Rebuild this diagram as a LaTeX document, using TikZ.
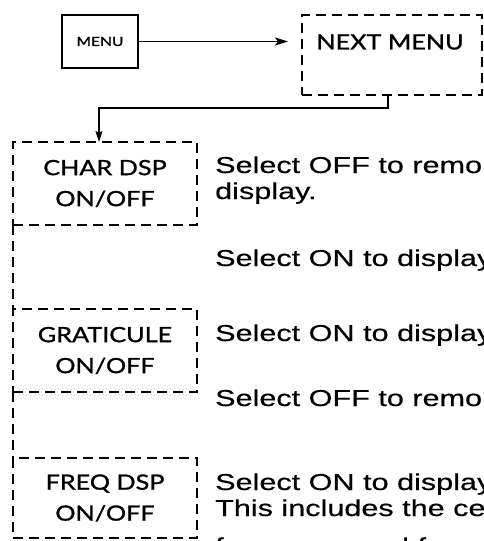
\documentclass[tikz,border=0pt]{standalone}
\usepackage{fontspec}
\usetikzlibrary{arrows.meta}
\newfontfamily\lblfont[FakeStretch=1.2,FakeBold=1.2]{Lato}
\newfontfamily\menufont[FakeStretch=1.25,FakeBold=1.5]{Lato}
\newfontfamily\txtfont[FakeStretch=1.33,FakeBold=0.4]{Liberation Sans}
\begin{document}
\begin{tikzpicture}[x=1pt,y=-1pt,
  solidbox/.style={draw, line width=1.9pt, inner sep=0pt, outer sep=0pt},
  dbox/.style={draw, line width=1.8pt, dash pattern=on 10pt off 6pt, inner sep=0pt, outer sep=0pt},
  dline/.style={line width=1.8pt, dash pattern=on 10pt off 6pt},
  conn/.style={line width=1.6pt},
  lbl/.style={font=\lblfont\fontsize{21}{31}\selectfont, align=center, inner sep=0pt},
  txt/.style={font=\txtfont\fontsize{23}{26}\selectfont, anchor=base west, inner sep=0pt},
  tip/.style={-{Stealth[length=13pt,width=8pt,inset=3pt]}}
]
\useasboundingbox (0,0) rectangle (483,541);

% top row
\node[solidbox, minimum width=76pt, minimum height=53pt, font=\menufont\fontsize{12.5}{13}\selectfont] (menu) at (100,41.5) {MENU};
\node[dbox, minimum width=180pt, minimum height=80pt] (next) at (392,55) {};
\node[lbl] (nextlbl) at (390,42) {NEXT MENU};

\draw[conn, tip, shorten >=14pt] (menu.east) -- (menu.east -| next.west);

% left column boxes
\node[dbox, lbl, minimum width=184pt, minimum height=83pt] (char) at (105,183.5) {CHAR DSP\\ON/OFF};
\node[dbox, lbl, minimum width=184pt, minimum height=83pt] (grat) at (105,350.5) {GRATICULE\\ON/OFF};
\node[dbox, lbl, minimum width=184pt, minimum height=80pt] (freq) at (105,498) {FREQ DSP\\ON/OFF};

\draw[conn, -{Stealth[length=11pt,width=7pt,inset=2pt]}] ([xshift=-4pt]next.south) -- ++(0,13) -| ([xshift=-6pt]char.north);

\draw[dline] (char.south west) -- (grat.north west);
\draw[dline] (grat.south west) -- (freq.north west);

% descriptions
\node[txt] (t1) at (215,173) {Select OFF to remo};
\node[txt] (t2) at (215,199) {display.};
\node[txt] (t3) at (215,266) {Select ON to display};
\node[txt] (t4) at (215,341) {Select ON to display};
\node[txt] (t5) at (215,406) {Select OFF to remo};
\node[txt] (t6) at (215,490) {Select ON to display};
\node[txt] (t7) at (215,516) {This includes the ce};
\node[txt] (t8) at (215,554) {frequency and f};
\end{tikzpicture}
\end{document}
